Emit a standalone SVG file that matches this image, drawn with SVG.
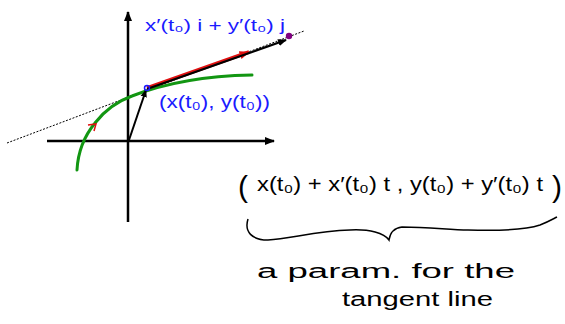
<svg xmlns="http://www.w3.org/2000/svg" width="565" height="324" viewBox="0 0 565 324">
<style>
.ax{stroke:#000;stroke-width:2.5;fill:none}
.blue{fill:#1a1aff;font-family:"Liberation Sans",sans-serif}
.ink{fill:#000;font-family:"Liberation Sans",sans-serif}
.par{font-size:30px}
</style>
<defs>
<marker id="ah" viewBox="0 0 10 10" refX="9" refY="5" markerWidth="4" markerHeight="4" orient="auto" markerUnits="strokeWidth"><path d="M0,1 L10,5 L0,9 z" fill="#000"/></marker>
<marker id="ahr" viewBox="0 0 10 10" refX="9" refY="5" markerWidth="3" markerHeight="3" orient="auto" markerUnits="strokeWidth"><path d="M0,1 L10,5 L0,9 z" fill="#e01010"/></marker>
</defs>
<rect width="565" height="324" fill="#fff"/>
<g id="axes">
<line class="ax" x1="128" y1="222" x2="128" y2="12" marker-end="url(#ah)"/>
<line class="ax" x1="47" y1="141" x2="274" y2="141" marker-end="url(#ah)"/>
</g>
<g id="tangent-line">
<line x1="7" y1="143" x2="304" y2="31" stroke="#000" stroke-width="1" stroke-dasharray="2,1.5"/>
</g>
<g id="curve">
<path d="M77,170 C78,150 86,134 95,123 C105,110 118,101 132,96 C160,85 200,76 252,75" fill="none" stroke="#129612" stroke-width="3" stroke-linecap="round"/>
<path d="M88,125 L96,124 L94,131" fill="none" stroke="#e01010" stroke-width="1.5"/>
</g>
<g id="connectors">
<line x1="129" y1="140" x2="146" y2="90" stroke="#000" stroke-width="2" marker-end="url(#ah)"/>
<line x1="147" y1="88" x2="249" y2="52" stroke="#e01010" stroke-width="3.5" marker-end="url(#ahr)"/>
<line x1="147" y1="89" x2="286" y2="40" stroke="#000" stroke-width="2.2" marker-end="url(#ah)"/>
</g>
<g id="point">
<circle cx="147" cy="88" r="2.5" fill="none" stroke="#1a1aff" stroke-width="1.5"/>
<circle cx="289" cy="36" r="3.2" fill="#800080"/>
</g>
<g id="labels">
<text class="blue" x="145" y="31" font-size="16" textLength="140" lengthAdjust="spacingAndGlyphs">x′(t₀) i + y′(t₀) j</text>
<text class="blue" x="159" y="108" font-size="18" textLength="111" lengthAdjust="spacingAndGlyphs">(x(t₀), y(t₀))</text>
</g>
<g id="formula">
<text class="ink" y="195" font-size="20"><tspan class="par" x="238" y="197">(</tspan><tspan x="257" y="191" textLength="286" lengthAdjust="spacingAndGlyphs">x(t₀) + x′(t₀) t , y(t₀) + y′(t₀) t</tspan><tspan class="par" x="552" y="197">)</tspan></text>
<path d="M248,219 C244,232 252,240 268,240 C290,239 315,231 350,230 C370,229 384,233 389,240 C390,233 394,228 402,227 C430,227 450,230 468,230 C500,231 525,230 540,225 C548,222 553,219 557,217" fill="none" stroke="#000" stroke-width="1.5"/>
<text class="ink" x="257" y="278" font-size="20" textLength="258" lengthAdjust="spacingAndGlyphs">a  param. for the</text>
<text class="ink" x="342" y="306" font-size="20" textLength="151" lengthAdjust="spacingAndGlyphs">tangent line</text>
</g>
</svg>
